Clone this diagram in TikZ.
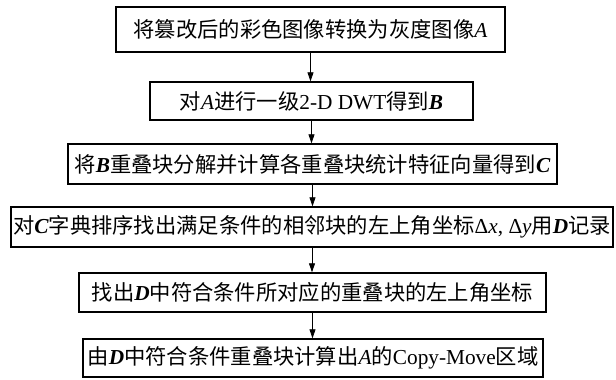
\documentclass[tikz,border=0pt]{standalone}
\usepackage{fontspec}
\setmainfont{Liberation Serif}
\newfontfamily\cjk{Noto Sans CJK SC}
\usetikzlibrary{arrows.meta}
\tikzset{
  box/.style={draw, line width=1.4pt, inner sep=0pt, font=\fontsize{21.3}{25}\selectfont},
  flow/.style={-{Triangle[length=9pt,width=6pt]}, line width=0.8pt}
}
\begin{document}
\begin{tikzpicture}
\useasboundingbox (0,0) rectangle (616pt,-380pt);
\node[box, minimum width=389pt, minimum height=45pt] (b1) at (310.5pt,-29.5pt) {{\cjk 将篡改后的彩色图像转换为灰度图像}\textit{A}};
\node[box, minimum width=323pt, minimum height=38pt] (b2) at (311.5pt,-101pt) {{\cjk 对}\textit{A}{\cjk 进行一级}2-D DWT{\cjk 得到}\textbf{\textit{B}}};
\node[box, minimum width=489pt, minimum height=40pt] (b3) at (312.5pt,-164pt) {{\cjk 将}\textbf{\textit{B}}{\cjk 重叠块分解并计算各重叠块统计特征向量得到}\textbf{\textit{C}}};
\node[box, minimum width=602pt, minimum height=40pt] (b4) at (312pt,-227pt) {{\cjk 对}\textbf{\textit{C}}{\cjk 字典排序找出满足条件的相邻块的左上角坐标}Δ\textit{x}, Δ\textit{y}{\cjk 用}\textbf{\textit{D}}{\cjk 记录}};
\node[box, minimum width=467pt, minimum height=39pt] (b5) at (312.5pt,-292.5pt) {{\cjk 找出}\textbf{\textit{D}}{\cjk 中符合条件所对应的重叠块的左上角坐标}};
\node[box, minimum width=460pt, minimum height=38pt] (b6) at (313pt,-358pt) {{\cjk 由}\textbf{\textit{D}}{\cjk 中符合条件重叠块计算出}\textit{A}{\cjk 的}Copy-Move{\cjk 区域}};
\draw[flow] (b1.south) -- (b1.south |- b2.north);
\draw[flow] (b2.south) -- (b2.south |- b3.north);
\draw[flow] (b3.south) -- (b3.south |- b4.north);
\draw[flow] (b4.south) -- (b4.south |- b5.north);
\draw[flow] (b5.south) -- (b5.south |- b6.north);
\end{tikzpicture}
\end{document}
